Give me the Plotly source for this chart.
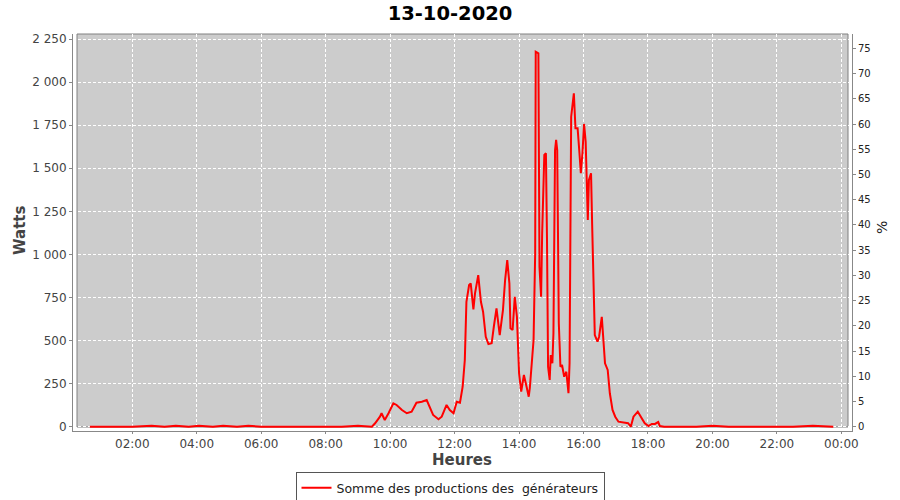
import plotly.graph_objects as go

DAY = "2020-10-13"
NEXT = "2020-10-14"

night_times = ["00:41", "01:00", "01:30", "02:00", "02:36", "03:00", "03:21", "03:45",
               "04:04", "04:30", "04:49", "05:15", "05:36", "06:00", "06:30", "07:00",
               "07:30", "08:00", "08:30", "09:00", "09:15"]
night_watts = [0, 0, 0, 0, 5, 0, 5, 0, 5, 0, 5, 0, 5, 0, 0, 0, 0, 0, 0, 5, 0]

day_times = ["09:26", "09:32", "09:41", "09:44", "09:50", "09:57", "10:06", "10:12", "10:22",
             "10:31", "10:40", "10:49", "10:59", "11:08", "11:14", "11:20", "11:30", "11:36",
             "11:45", "11:51", "11:58", "12:04", "12:10", "12:15", "12:19", "12:22", "12:27",
             "12:30", "12:35", "12:38", "12:44", "12:49", "12:53", "12:58", "13:03", "13:09",
             "13:13", "13:18", "13:24", "13:30", "13:34", "13:38", "13:42", "13:44", "13:48",
             "13:52", "13:56", "14:00", "14:04", "14:09", "14:14", "14:18", "14:20", "14:23",
             "14:27", "14:30", "14:31", "14:36", "14:38", "14:41", "14:43", "14:47", "14:50",
             "14:52", "14:54", "14:57", "14:59", "15:02", "15:04", "15:07", "15:09", "15:11",
             "15:14", "15:17", "15:20", "15:24", "15:28", "15:32", "15:34", "15:37", "15:42",
             "15:45", "15:49", "15:52", "15:55", "15:58", "16:01", "16:04", "16:08", "16:10",
             "16:14", "16:16", "16:18", "16:21", "16:26", "16:29", "16:34", "16:37", "16:40",
             "16:45", "16:49", "16:54", "16:59", "17:05", "17:14", "17:23", "17:28", "17:33",
             "17:41", "17:48", "17:54", "18:01", "18:07", "18:13", "18:19", "18:22", "18:30"]
day_watts = [0, 20, 58, 78, 39, 78, 136, 126, 97,
             78, 87, 139, 145, 155, 116, 68, 43, 58,
             126, 97, 78, 145, 139, 232, 387, 725, 822,
             832, 681, 774, 880, 725, 667, 522, 480, 484,
             580, 687, 532, 677, 851, 967, 832, 571, 561,
             754, 638, 310, 203, 300, 232, 174, 223, 368,
             503, 1006, 2176, 2167, 929, 754, 1122, 1577, 1587,
             1083, 348, 271, 416, 368, 542, 1606, 1664, 1606,
             600, 348, 358, 290, 319, 194, 368, 1799, 1935,
             1732, 1732, 1606, 1471, 1587, 1757, 1654, 1200, 1432,
             1471, 1180, 851, 532, 493, 522, 638, 503, 368,
             329, 194, 97, 58, 29, 23, 20, 0, 58,
             87, 49, 20, 4, 16, 16, 27, 4, 0]

evening_times = ["19:00", "19:30", "20:00", "20:30", "21:00", "21:30", "22:00", "22:30",
                 "23:07", "23:30", "23:45"]
evening_watts = [0, 0, 5, 0, 0, 0, 0, 0, 5, 0, 0]

times = night_times + day_times + evening_times
watts = night_watts + day_watts + evening_watts
x_vals = [f"{DAY} {t}" for t in times]

watt_ticks = [0, 250, 500, 750, 1000, 1250, 1500, 1750, 2000, 2250]
pct_ticks = list(range(0, 80, 5))

title_text = "13-10-2020"
series_name = "Somme des productions des \u00a0générateurs"

fig = go.Figure()
fig.add_trace(go.Scatter(
    x=x_vals, y=watts, mode="lines", name=series_name,
    line=dict(color="#ff0000", width=2),
    showlegend=True, hoverinfo="x+y",
))
fig.add_trace(go.Scatter(
    x=[x_vals[0]], y=[None], yaxis="y2", mode="lines", showlegend=False,
    hoverinfo="skip",
))

# plot area pixel geometry (figure 900x500)
L, R, T, B = 73, 852, 34, 431
W_ = R - L
H_ = B - T

fig.update_layout(
    width=900, height=500,
    margin=dict(l=L, r=900 - R, t=T, b=500 - B, autoexpand=False),
    paper_bgcolor="white",
    plot_bgcolor="white",
    separators=", ",
    font=dict(family="DejaVu Sans", color="#444444"),
    title=dict(text=f"<b>{title_text}</b>", x=0.5, xref="container", xanchor="center",
               y=1 - 13 / 500, yref="container", yanchor="middle",
               font=dict(size=19.5, color="#000000", family="DejaVu Sans")),
    xaxis=dict(
        type="date",
        range=[f"{DAY} 00:09:36", f"{NEXT} 00:19:48"],
        tick0=f"{DAY} 00:00", dtick=2 * 3600 * 1000, tickformat="%H:%M",
        showgrid=True, gridcolor="#ffffff", griddash="3px,2px", gridwidth=1,
        showline=True, linecolor="#888888", linewidth=1,
        ticks="outside", ticklen=2, tickcolor="#888888",
        tickfont=dict(size=12, color="#444444"),
        zeroline=False, fixedrange=True, automargin=False,
    ),
    yaxis=dict(
        range=[-25, 2279],
        tickvals=watt_ticks, tickformat=",d",
        showgrid=True, gridcolor="#ffffff", griddash="3px,2px", gridwidth=1,
        showline=True, linecolor="#888888", linewidth=1,
        ticks="outside", ticklen=3, tickcolor="#888888",
        tickfont=dict(size=12, color="#444444"),
        zeroline=False, fixedrange=True, automargin=False,
    ),
    yaxis2=dict(
        overlaying="y", side="right",
        range=[-0.85, 77.84],
        tickvals=pct_ticks,
        showgrid=False, zeroline=False,
        showline=True, linecolor="#888888", linewidth=1,
        ticks="outside", ticklen=3, tickcolor="#888888",
        tickfont=dict(size=10, color="#222222"),
        fixedrange=True, automargin=False,
    ),
    legend=dict(
        x=(450 - L) / W_, xanchor="center",
        y=(B - 472) / H_, yanchor="top",
        orientation="h",
        bordercolor="#555555", borderwidth=1, bgcolor="white",
        font=dict(size=12.5, color="#222222"),
        itemwidth=30, tracegroupgap=0,
    ),
    shapes=[dict(
        type="rect", xref="paper", yref="paper", layer="below",
        x0=(77 - L) / W_, x1=(848 - L) / W_, y0=(B - 427) / H_, y1=1,
        fillcolor="#cccccc", line=dict(color="#808080", width=1),
    )],
    annotations=[
        dict(text="<b>Watts</b>", xref="paper", yref="paper",
             x=(20 - L) / W_, y=(B - 230) / H_, textangle=-90, showarrow=False,
             xanchor="center", yanchor="middle",
             font=dict(size=15, color="#444444")),
        dict(text="<b>Heures</b>", xref="paper", yref="paper",
             x=(462 - L) / W_, y=(B - 460) / H_, showarrow=False,
             xanchor="center", yanchor="middle",
             font=dict(size=15, color="#444444")),
        dict(text="%", xref="paper", yref="paper",
             x=(882 - L) / W_, y=(B - 228) / H_, textangle=-90, showarrow=False,
             xanchor="center", yanchor="middle",
             font=dict(size=14, color="#222222")),
    ],
)

fig.write_html(
    "out.html",
    config={"displayModeBar": False},
    post_script="document.body.style.margin='0px'; document.body.style.overflow='hidden';",
)
